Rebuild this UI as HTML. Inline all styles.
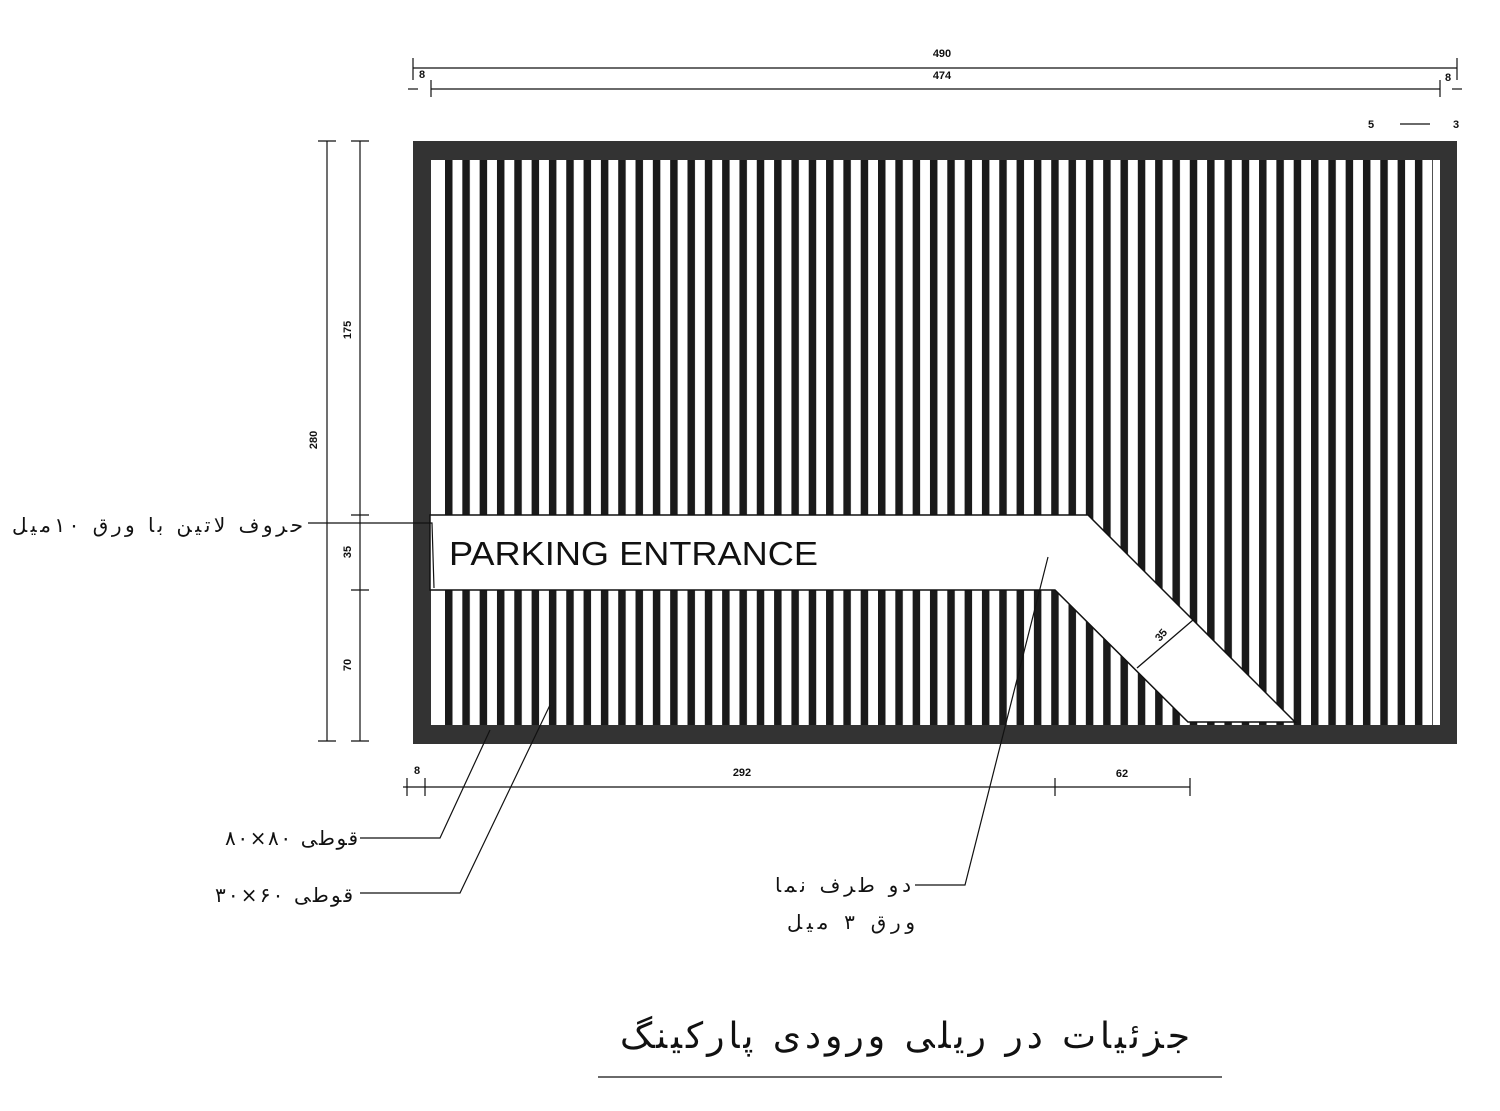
<!DOCTYPE html>
<html><head><meta charset="utf-8"><style>
html,body{margin:0;padding:0;background:#fff;}
svg{display:block;}
.d{font-family:"Liberation Sans",sans-serif;font-weight:bold;font-size:11px;fill:#111;}
.fa{font-family:"DejaVu Sans","Noto Sans CJK SC",sans-serif;fill:#111;}
</style></head><body>
<svg width="1500" height="1111" viewBox="0 0 1500 1111" xmlns="http://www.w3.org/2000/svg">
<defs>
<pattern id="bp" x="445" y="0" width="17.32" height="20" patternUnits="userSpaceOnUse">
<rect x="0" y="0" width="7.5" height="20" fill="#1a1a1a"/>
</pattern>
</defs>
<rect x="413" y="141" width="1044" height="603" fill="#333"/>
<rect x="431" y="160" width="1009" height="565" fill="#fff"/>
<rect x="445" y="160" width="988" height="565" fill="url(#bp)"/>
<polygon points="430,515 1088,515 1295,722 1188,722 1055,590 430,590" fill="#fff" stroke="#111" stroke-width="1.5"/>
<text x="449" y="565" font-family="Liberation Sans,sans-serif" font-size="33" fill="#111" textLength="369" lengthAdjust="spacingAndGlyphs">PARKING ENTRANCE</text>
<line x1="1137" y1="668" x2="1193" y2="620" stroke="#111" stroke-width="1.3"/>
<text x="1160" y="642" class="d" font-size="13" transform="rotate(-50 1160 642)">35</text>
<g stroke="#111" stroke-width="1.2" fill="none">
<line x1="413" y1="68" x2="1457" y2="68"/><line x1="413" y1="58" x2="413" y2="80"/><line x1="1457" y1="58" x2="1457" y2="80"/>
<line x1="431" y1="89" x2="1440" y2="89"/><line x1="431" y1="80" x2="431" y2="97"/><line x1="1440" y1="80" x2="1440" y2="97"/>
<line x1="408" y1="89" x2="418" y2="89"/><line x1="1452" y1="89" x2="1462" y2="89"/>
<line x1="1400" y1="124" x2="1430" y2="124"/>
<line x1="327" y1="141" x2="327" y2="741"/><line x1="318" y1="141" x2="336" y2="141"/><line x1="318" y1="741" x2="336" y2="741"/>
<line x1="360" y1="141" x2="360" y2="741"/><line x1="351" y1="141" x2="369" y2="141"/><line x1="351" y1="515" x2="369" y2="515"/><line x1="351" y1="590" x2="369" y2="590"/><line x1="351" y1="741" x2="369" y2="741"/>
<line x1="403" y1="787" x2="1190" y2="787"/><line x1="407" y1="778" x2="407" y2="796"/><line x1="425" y1="778" x2="425" y2="796"/><line x1="1055" y1="778" x2="1055" y2="796"/><line x1="1190" y1="778" x2="1190" y2="796"/>
<polyline points="308,523 432,523 434,588"/>
<polyline points="360,838 440,838 490,730"/>
<polyline points="360,893 460,893 550,705"/>
<polyline points="915,885 965,885 1048,557"/>
<line x1="598" y1="1077" x2="1222" y2="1077"/>
</g>
<g class="d" text-anchor="middle">
<text x="942" y="57">490</text><text x="942" y="79">474</text>
<text x="422" y="78">8</text><text x="1448" y="81">8</text>
<text x="1371" y="128">5</text><text x="1456" y="128">3</text>
<text x="742" y="776">292</text><text x="1122" y="777">62</text><text x="417" y="774">8</text>
<text transform="translate(317,440) rotate(-90)">280</text>
<text transform="translate(351,330) rotate(-90)">175</text>
<text transform="translate(351,552) rotate(-90)">35</text>
<text transform="translate(351,665) rotate(-90)">70</text>
</g>
<g class="fa">
<text x="12" y="532" font-size="20" textLength="291" lengthAdjust="spacing">حروف لاتین با ورق ۱۰میل</text>
<text x="225" y="845" font-size="20" textLength="133" lengthAdjust="spacing">قوطی ۸۰×۸۰</text>
<text x="215" y="902" font-size="20" textLength="138" lengthAdjust="spacing">قوطی ۶۰×۳۰</text>
<text x="775" y="892" font-size="20" textLength="136" lengthAdjust="spacing">دو طرف نما</text>
<text x="787" y="929" font-size="20" textLength="128" lengthAdjust="spacing">ورق ۳ میل</text>
<text x="620" y="1048" font-size="36" textLength="570" lengthAdjust="spacing">جزئیات در ریلی ورودی پارکینگ</text>
</g>
</svg>
</body></html>
